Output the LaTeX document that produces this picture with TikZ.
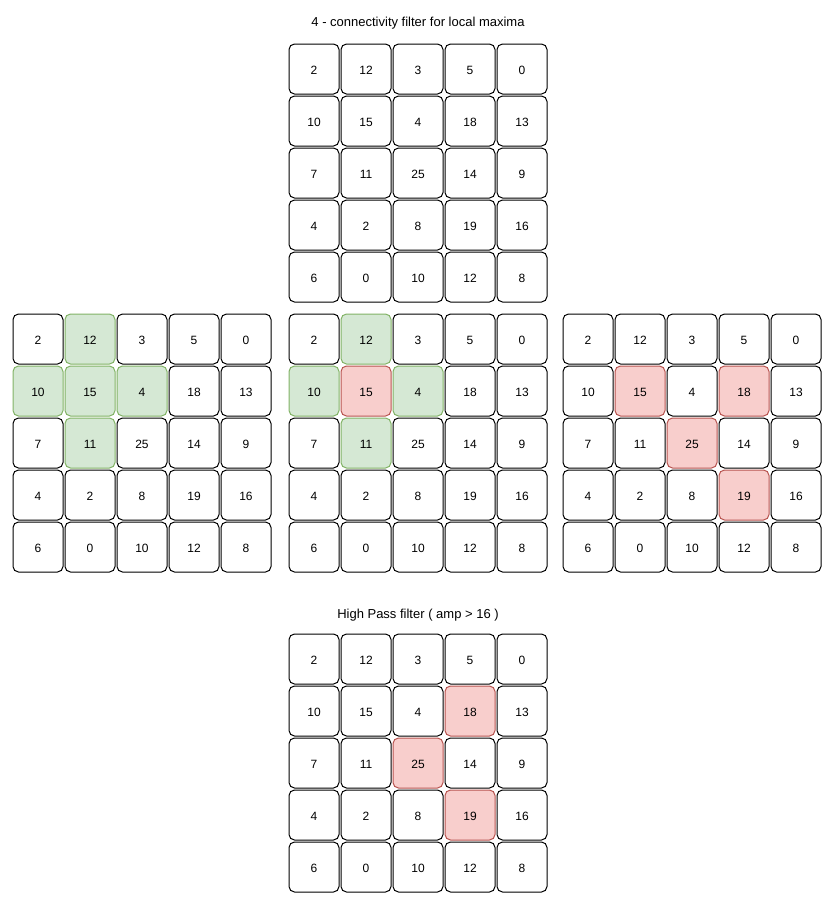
\documentclass[tikz,border=0pt]{standalone}
\usepackage{fontspec}
\setmainfont{Liberation Sans}
\definecolor{gfill}{HTML}{D5E8D4}
\definecolor{gdraw}{HTML}{82B366}
\definecolor{rfill}{HTML}{F8CECC}
\definecolor{rdraw}{HTML}{B85450}
\tikzset{
  cell/.style={draw=black, fill=white, rounded corners=5.5pt*0.75, minimum width=50*0.75pt, minimum height=50*0.75pt, inner sep=0pt, line width=0.75pt, font=\fontsize{9}{11}\selectfont, text height=8.6pt, text depth=0pt},
  gcell/.style={cell, draw=gdraw, fill=gfill},
  rcell/.style={cell, draw=rdraw, fill=rfill},
  ttl/.style={font=\fontsize{9.75}{12}\selectfont, inner sep=0pt}
}
\begin{document}
\begin{tikzpicture}[x=0.75pt,y=-0.75pt]
\useasboundingbox (0,0) rectangle (839,911);
\def\vals{{{2,12,3,5,0},{10,15,4,18,13},{7,11,25,14,9},{4,2,8,19,16},{6,0,10,12,8}}}
% style maps: 0 white, 1 green, 2 red
\def\mA{{{0,0,0,0,0},{0,0,0,0,0},{0,0,0,0,0},{0,0,0,0,0},{0,0,0,0,0}}}
\def\mB{{{0,1,0,0,0},{1,1,1,0,0},{0,1,0,0,0},{0,0,0,0,0},{0,0,0,0,0}}}
\def\mC{{{0,1,0,0,0},{1,2,1,0,0},{0,1,0,0,0},{0,0,0,0,0},{0,0,0,0,0}}}
\def\mD{{{0,0,0,0,0},{0,2,0,2,0},{0,0,2,0,0},{0,0,0,2,0},{0,0,0,0,0}}}
\def\mE{{{0,0,0,0,0},{0,0,0,2,0},{0,0,2,0,0},{0,0,0,2,0},{0,0,0,0,0}}}
\foreach \g/\ox/\oy/\m in {top/289/44/\mA, left/13/314/\mB, mid/289/314/\mC, right/563/314/\mD, bot/289/634/\mE}{
  \foreach \r in {0,...,4}{
    \foreach \c in {0,...,4}{
      \pgfmathtruncatemacro{\v}{\vals[\r][\c]}
      \pgfmathtruncatemacro{\k}{\m[\r][\c]}
      \ifcase\k
        \node[cell] (\g-\r-\c) at (\ox+52*\c+25, \oy+52*\r+25) {\v};
      \or
        \node[gcell] (\g-\r-\c) at (\ox+52*\c+25, \oy+52*\r+25) {\v};
      \or
        \node[rcell] (\g-\r-\c) at (\ox+52*\c+25, \oy+52*\r+25) {\v};
      \fi
    }
  }
}
\node[ttl] (t1) at (418,23.5) {4 - connectivity filter for local maxima};
\node[ttl] (t2) at (418,615.5) {High Pass filter ( amp > 16 )};
\end{tikzpicture}
\end{document}
